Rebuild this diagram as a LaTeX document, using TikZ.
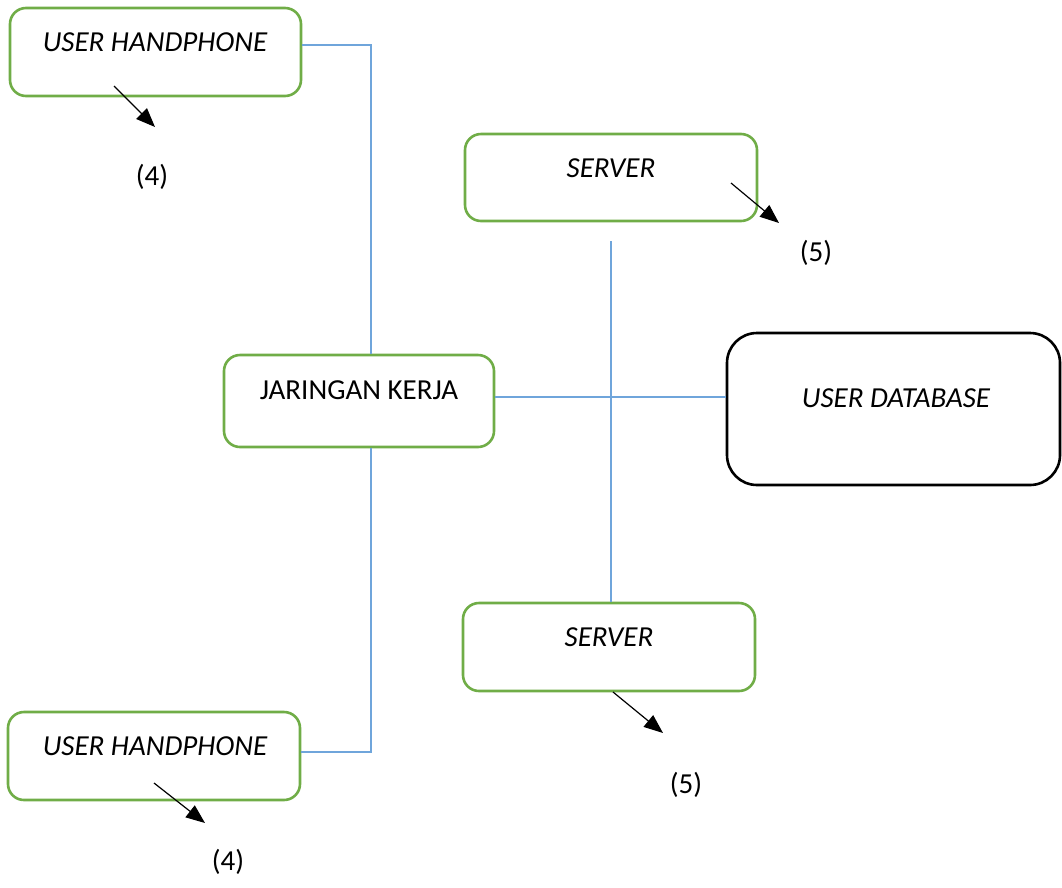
\documentclass[tikz,border=0pt]{standalone}
\usepackage{fontspec}
\setmainfont{Carlito}
\usetikzlibrary{arrows.meta}
\definecolor{boxgreen}{HTML}{70AD47}
\definecolor{lineblue}{HTML}{6FA5DB}
\tikzset{
  gbox/.style={draw=boxgreen, line width=2.6pt, rounded corners=16pt, inner sep=0pt, fill=white},
  dbbox/.style={draw=black, line width=2.6pt, rounded corners=30pt, inner sep=0pt, fill=white},
  txt/.style={font=\fontsize{29}{34}\selectfont, inner sep=0pt, anchor=center},
  itxt/.style={txt, font=\fontsize{29}{34}\selectfont\itshape},
  link/.style={draw=lineblue, line width=1.3pt},
  arr/.style={draw=black, line width=1.2pt, -{Triangle[length=19pt,width=15pt]}}
}
\begin{document}
\begin{tikzpicture}[x=1pt,y=-1pt]
\useasboundingbox (0,0) rectangle (1062,887);
% boxes
\node[gbox, minimum width=291pt, minimum height=88pt] (hp1) at (155.5,52) {};
\node[gbox, minimum width=292pt, minimum height=87pt] (srv1) at (611,177.5) {};
\node[gbox, minimum width=270pt, minimum height=92pt] (jk) at (359,401) {};
\node[dbbox, minimum width=333pt, minimum height=152pt] (db) at (893.5,409) {};
\node[gbox, minimum width=292pt, minimum height=88pt] (srv2) at (609,647) {};
\node[gbox, minimum width=292pt, minimum height=88pt] (hp2) at (154,756) {};
% texts
\node[itxt] (thp1) at (155,42) {USER HANDPHONE};
\node[itxt] (tsrv1) at (611,168) {SERVER};
\node[txt] (tjk) at (359,390) {JARINGAN KERJA};
\node[itxt] (tdb) at (896,398) {USER DATABASE};
\node[itxt] (tsrv2) at (609,637) {SERVER};
\node[itxt] (thp2) at (155,746) {USER HANDPHONE};
\node[txt] (l4a) at (152,177) {(4)};
\node[txt] (l5a) at (816,253) {(5)};
\node[txt] (l5b) at (686,785) {(5)};
\node[txt] (l4b) at (228,862) {(4)};
% connector coordinates
\coordinate (v1) at (371,45);
\coordinate (v2) at (371,752);
\coordinate (h1) at (494,397);
\coordinate (s1) at (611,241);
% blue links
\draw[link] (hp1.east |- v1) -- (v1) -- (v1 |- jk.north);
\draw[link] (v1 |- jk.south) -- (v2) -- (hp2.east |- v2);
\draw[link] (jk.east |- h1) -- (db.west |- h1);
\draw[link] (s1) -- (s1 |- srv2.north);
% arrows
\coordinate (a1s) at (114,86); \coordinate (a1e) at (155,127);
\coordinate (a2s) at (731,183); \coordinate (a2e) at (779,223);
\coordinate (a3s) at (613,692); \coordinate (a3e) at (663,733);
\coordinate (a4s) at (154,783); \coordinate (a4e) at (205,823);
\draw[arr] (a1s) -- (a1e);
\draw[arr] (a2s) -- (a2e);
\draw[arr] (a3s) -- (a3e);
\draw[arr] (a4s) -- (a4e);
\end{tikzpicture}
\end{document}
